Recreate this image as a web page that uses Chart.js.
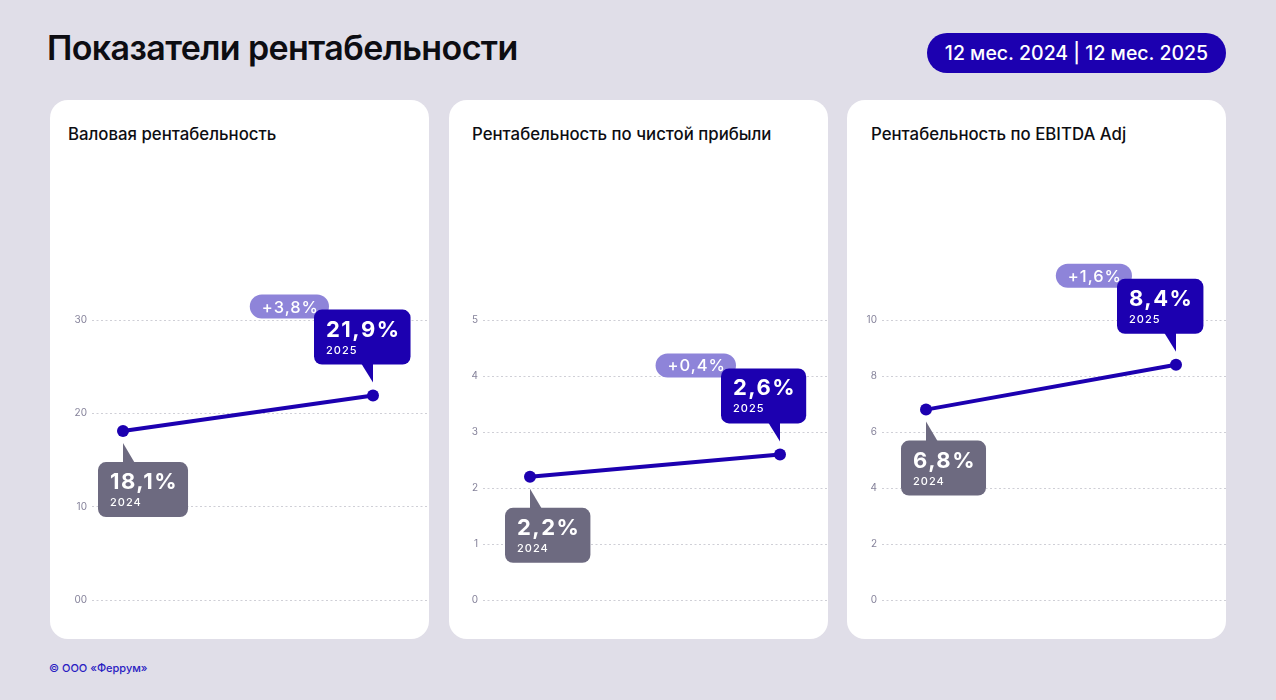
<!DOCTYPE html>
<html lang="ru">
<head>
<meta charset="utf-8">
<title>Показатели рентабельности</title>
<script src="https://cdn.jsdelivr.net/npm/chart.js@4.4.1/dist/chart.umd.min.js"></script>
<style>
  html, body { margin: 0; padding: 0; }
  body {
    width: 1276px; height: 700px; position: relative; overflow: hidden;
    background: #e0dee8; font-family: Inter, "Noto Sans", sans-serif;
  }
  .title { position: absolute; left: 47px; top: 27px; font-size: 34px; font-weight: 600; color: #0d0d12; letter-spacing: -0.6px; }
  .period {
    position: absolute; left: 927px; top: 33px; width: 299px; height: 40px; border-radius: 20px;
    background: #1c00b0; color: #fff; font-size: 19.5px; font-weight: 500; line-height: 40px; text-align: center;
  }
  .card { position: absolute; top: 100px; width: 379px; height: 539px; background: #fff; border-radius: 18px; overflow: hidden; }
  .card h2 { position: absolute; margin: 0; font-size: 16.8px; font-weight: 500; color: #0d0d12; }
  .card canvas { position: absolute; left: 0; top: 0; }
  .footer { position: absolute; left: 49px; top: 661px; font-size: 11px; font-weight: 500; color: #2a1cc2; }
</style>
</head>
<body>
<div class="title">Показатели рентабельности</div>
<div class="period">12 мес. 2024 | 12 мес. 2025</div>

<div class="card" style="left:50px"><h2 style="top:24px;left:18px">Валовая рентабельность</h2><canvas id="chart-gross" width="379" height="539"></canvas></div>
<div class="card" style="left:449px"><h2 style="top:24px;left:23px">Рентабельность по чистой прибыли</h2><canvas id="chart-net" width="379" height="539"></canvas></div>
<div class="card" style="left:847px"><h2 style="top:24px;left:24px">Рентабельность по EBITDA Adj</h2><canvas id="chart-ebitda" width="379" height="539"></canvas></div>

<div class="footer">© ООО «Феррум»</div>

<script>
// data
const years = [2024, 2025];
const yearLabels = ['2024', '2025'];
const grossMargin = [18.1, 21.9];
const netMargin = [2.2, 2.6];
const ebitdaMargin = [6.8, 8.4];
const grossTicks = ['00', '10', '20', '30'];
const netTicks = ['0', '1', '2', '3', '4', '5'];
const ebitdaTicks = ['0', '2', '4', '6', '8', '10'];

const BLUE = '#1c00b0';
const GREY = '#6d6a80';
const LILAC = '#8e84d9';
const FONT = 'Inter, "Noto Sans", sans-serif';

function fmt(v) {
    return v.toFixed(1).replace('.', ',') + '%';
}

function roundRect(ctx, x, y, w, h, r) {
    ctx.beginPath();
    ctx.moveTo(x + r, y);
    ctx.arcTo(x + w, y, x + w, y + h, r);
    ctx.arcTo(x + w, y + h, x, y + h, r);
    ctx.arcTo(x, y + h, x, y, r);
    ctx.arcTo(x, y, x + w, y, r);
    ctx.closePath();
}

// value bubble with a tail pointing at the data point
function drawBubble(ctx, px, py, value, year, color, below) {
    ctx.font = '700 22px ' + FONT;
    ctx.letterSpacing = '1.5px';
    const vw = ctx.measureText(value).width;
    ctx.font = '500 11px ' + FONT;
    ctx.letterSpacing = '1px';
    const yw = ctx.measureText(year).width;
    const w = Math.max(vw, yw) + 22;
    const h = 55;
    let left, top;
    ctx.fillStyle = color;
    ctx.beginPath();
    if (below) {
        left = px - 25;
        top = py + 31;
        ctx.moveTo(px, py + 12);
        ctx.lineTo(px, top + 3);
        ctx.lineTo(px + 13, top + 3);
    } else {
        left = px - 59;
        top = py - 31 - h;
        ctx.moveTo(px, py - 13);
        ctx.lineTo(px, top + h - 3);
        ctx.lineTo(px - 13, top + h - 3);
    }
    ctx.closePath();
    ctx.fill();
    roundRect(ctx, left, top, w, h, 8);
    ctx.fill();
    ctx.fillStyle = '#fff';
    ctx.textAlign = 'left';
    ctx.textBaseline = 'alphabetic';
    ctx.font = '700 22px ' + FONT;
    ctx.letterSpacing = '1.5px';
    ctx.fillText(value, left + 12, top + 27);
    ctx.font = '500 11px ' + FONT;
    ctx.letterSpacing = '1px';
    ctx.fillText(year, left + 12, top + 44);
    ctx.letterSpacing = '0px';
    return { left, top };
}

const calloutPlugin = {
    id: 'callouts',
    afterDatasetsDraw(chart) {
        const ctx = chart.ctx;
        const pts = chart.getDatasetMeta(0).data;
        const vals = chart.data.datasets[0].data.map(d => d.y);
        ctx.save();
        // change pill sits behind the 2025 bubble
        const p1 = pts[1];
        const boxLeft = p1.x - 59;
        const boxTop = p1.y - 31 - 55;
        const diff = '+' + fmt(vals[1] - vals[0]);
        ctx.font = '500 16.5px ' + FONT;
        ctx.letterSpacing = '1px';
        const dw = ctx.measureText(diff).width + 22;
        const pillRight = boxLeft + 15;
        const pillBottom = boxTop + 9;
        ctx.fillStyle = LILAC;
        roundRect(ctx, pillRight - dw, pillBottom - 24, dw, 24, 12);
        ctx.fill();
        ctx.fillStyle = '#fff';
        ctx.textAlign = 'left';
        ctx.textBaseline = 'middle';
        ctx.fillText(diff, pillRight - dw + 12, pillBottom - 12 + 1);
        ctx.letterSpacing = '0px';

        drawBubble(ctx, p1.x, p1.y, fmt(vals[1]), yearLabels[1], BLUE, false);
        drawBubble(ctx, pts[0].x, pts[0].y, fmt(vals[0]), yearLabels[0], GREY, true);
        ctx.restore();
    }
};

function makeChart(id, values, tickLabels, yMax, step, axisWidth, xMin, xMax) {
    const canvas = document.getElementById(id);
    return new Chart(canvas.getContext('2d'), {
        type: 'line',
        data: {
            datasets: [{
                data: years.map((x, i) => ({ x: x, y: values[i] })),
                borderColor: BLUE,
                backgroundColor: BLUE,
                borderWidth: 4,
                pointRadius: 6,
                pointBorderWidth: 0,
                pointBackgroundColor: BLUE,
                fill: false
            }]
        },
        options: {
            responsive: false,
            animation: false,
            layout: { autoPadding: false, padding: { top: 220, bottom: 39, left: 0, right: 0 } },
            plugins: {
                legend: { display: false },
                tooltip: { enabled: false }
            },
            scales: {
                x: { type: 'linear', display: false, min: xMin, max: xMax },
                y: {
                    min: 0,
                    max: yMax,
                    afterFit(scale) { scale.width = axisWidth; },
                    ticks: {
                        stepSize: step,
                        padding: 5,
                        color: '#85829a',
                        font: { family: FONT, size: 10 },
                        callback: (v, i) => tickLabels[i]
                    },
                    grid: { color: '#cfcfd6', lineWidth: 1, drawTicks: false },
                    border: { display: false, dash: [2, 2.5] }
                }
            }
        },
        plugins: [calloutPlugin]
    });
}

makeChart('chart-gross', grossMargin, grossTicks, 30, 10, 42, 2023.876, 2025.224);
makeChart('chart-net', netMargin, netTicks, 5, 1, 34, 2023.812, 2025.192);
makeChart('chart-ebitda', ebitdaMargin, ebitdaTicks, 10, 2, 35, 2023.824, 2025.2);
</script>
</body>
</html>
